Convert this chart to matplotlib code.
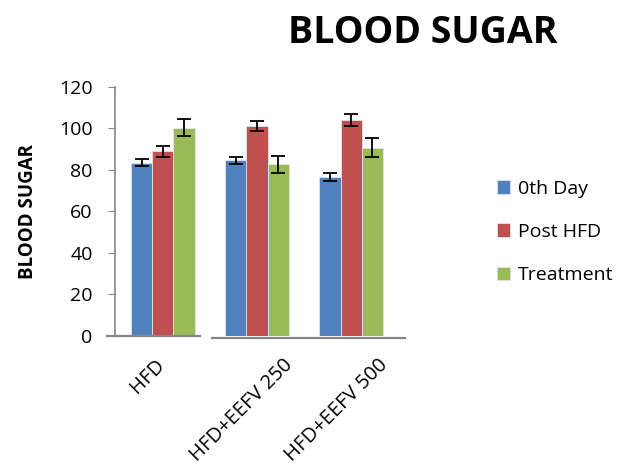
import numpy as np
import matplotlib.pyplot as plt
from matplotlib.transforms import ScaledTranslation

# blood sugar values
groups = ['HFD', 'HFD+EEFV 250', 'HFD+EEFV 500']
series = ['0th Day', 'Post HFD', 'Treatment']
day0 = [83.4, 84.5, 76.5]
post_hfd = [88.9, 101.2, 103.8]
treatment = [100.3, 82.6, 90.6]
day0_err = [1.6, 1.8, 1.8]
post_hfd_err = [2.6, 2.3, 2.9]
treatment_err = [4.1, 4.1, 4.5]

colors = ['#4F81BD', '#C0504D', '#9BBB59']
font = 'Open Sans'

fig = plt.figure(figsize=(6.24, 4.66), dpi=100)
ax = fig.add_axes([0.184, 0.279, 0.465, 0.535])

x = np.arange(len(groups))
w = 0.225
vals = [day0, post_hfd, treatment]
errs = [day0_err, post_hfd_err, treatment_err]
for i in range(3):
    ax.bar(x + (i - 1) * w, vals[i], w, color=colors[i], edgecolor='#dfe6ee',
           linewidth=0.6, label=series[i], zorder=2,
           yerr=errs[i], capsize=5, error_kw=dict(ecolor='black', elinewidth=1.3, capthick=1.3))

ax.set_ylim(0, 120)
ax.set_xlim(-0.51, 2.57)
ax.set_yticks(range(0, 121, 20))
ax.tick_params(axis='y', direction='out', length=5, color='#868686', labelsize=14, pad=11)
ax.tick_params(axis='x', length=0, labelsize=14.5, pad=14)
ax.set_xticks(x)
ax.set_xticklabels(groups, rotation=45, ha='center', va='top', fontfamily=font)
# excel places the rotated labels a bit left of the category centre
shift = ScaledTranslation(-15 / 100, 0, fig.dpi_scale_trans)
for lab in ax.get_xticklabels():
    lab.set_transform(lab.get_transform() + shift)
for lab in ax.get_yticklabels():
    lab.set_fontfamily(font)

for s in ['top', 'right', 'bottom']:
    ax.spines[s].set_visible(False)
ax.spines['left'].set_color('#868686')
ax.spines['left'].set_linewidth(1.2)

# broken baseline like the reference
ax.axhline(0, xmin=-0.028, xmax=0.293, color='#868686', lw=1.6, clip_on=False)
ax.axhline(-0.8, xmin=0.335, xmax=1.0, color='#868686', lw=1.6, clip_on=False)

ax.set_ylabel('BLOOD SUGAR', fontsize=13.5, fontweight='bold', fontfamily=font)
ax.yaxis.set_label_coords(-0.265, 0.5)

fig.text(0.678, 0.93, 'BLOOD SUGAR', fontsize=27, fontweight='bold', fontfamily=font,
         ha='center', va='center')

fig.legend(loc='upper left', bbox_to_anchor=(0.768, 0.652), frameon=False,
           prop={'family': font, 'size': 14}, handlelength=0.7, handleheight=0.7,
           labelspacing=1.3, handletextpad=0.4)

fig.savefig('out.png', dpi=100)
